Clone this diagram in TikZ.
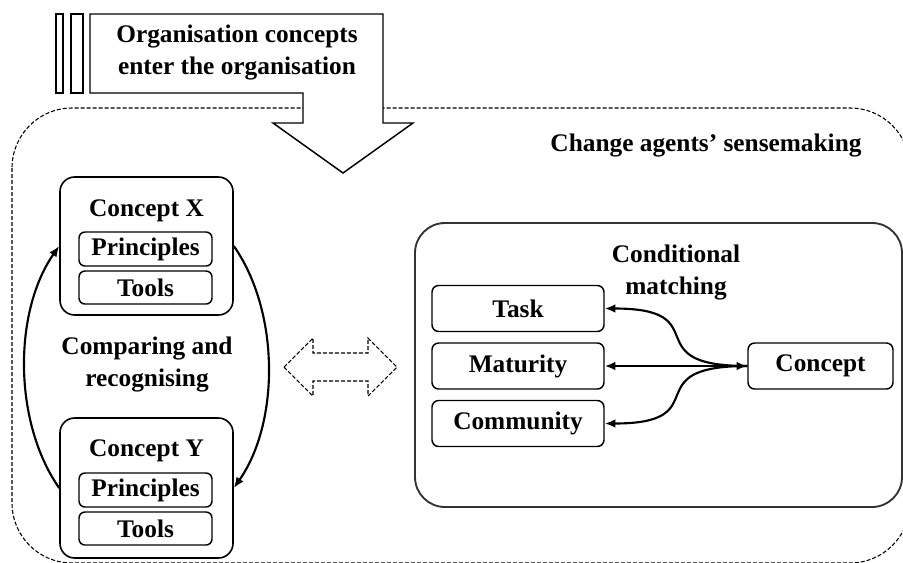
\documentclass[tikz,border=0pt]{standalone}
\usepackage{fontspec}
\setmainfont{Liberation Serif}
\usepackage{tikz}
\usetikzlibrary{positioning, arrows.meta, calc}

\begin{document}
\begin{tikzpicture}[x=0.75pt, y=-0.75pt, >={Latex[length=8pt,width=6.5pt]},
		every node/.style={font=\fontsize{19}{24}\selectfont\bfseries, align=center},
		conceptbox/.style={draw, line width=1.2pt, rounded corners=11pt, minimum width=129.75pt},
		itembox/.style={draw, line width=1.1pt, rounded corners=4.5pt, inner sep=0pt},
		factorbox/.style={draw, line width=1.1pt, rounded corners=5pt, inner sep=0pt, minimum width=129pt, minimum height=34.5pt},
		loop/.style={->, line width=1.6pt},
		border/.style={dashed, dash pattern=on 3pt off 1.5pt, line width=0.8pt}]
		
		\useasboundingbox (0,0) rectangle (903,562);
		
		% Draw sensemaking area
		\begin{scope}
			\clip (0,0) rectangle (903,562);
			\draw[border, rounded corners=45pt] (12,108) rectangle (910,563);
		\end{scope}
		\node (sense) at (706,145) {Change agents’ sensemaking};
		
		% Draw entering arrow
		\draw[line width=1.1pt] (56,14) rectangle (63,93);
		\draw[line width=1.1pt] (71,14) rectangle (83,93);
		\draw[line width=1.1pt, fill=white] (90,14) -- (383,14) -- (383,123) -- (413,123) -- (343,173)
			-- (273,123) -- (303,123) -- (303,93) -- (90,93) -- cycle;
		\node (enter) at (237,52) {Organisation concepts\\enter the organisation};
		
		% Concept X
		\node[conceptbox, minimum height=103.5pt] (cx) at (146.5,246) {};
		\node (cxname) at (146.5,211) {Concept X};
		\node[itembox, minimum width=99.75pt, minimum height=25.5pt] (cxprin) at (145.5,249) {Principles};
		\node[itembox, minimum width=99.75pt, minimum height=24.75pt] (cxtool) at (145.5,287.5) {Tools};
		
		% Concept Y
		\node[conceptbox, minimum height=105pt] (cy) at (146.5,488) {};
		\node (cyname) at (146.5,451) {Concept Y};
		\node[itembox, minimum width=99.75pt, minimum height=25.5pt] (cyprin) at (145.5,490) {Principles};
		\node[itembox, minimum width=99.75pt, minimum height=24.75pt] (cytool) at (145.5,528.5) {Tools};
		
		\node (compare) at (147,364) {Comparing and\\recognising};
		
		% Comparing loop
		\draw[loop] (cy.west) to[out=125, in=235, looseness=0.85] (cx.west);
		\draw[loop] (cx.east) to[out=-55, in=55, looseness=0.85] (cy.east);
		
		% Dashed double arrow
		\draw[border] (284,367) -- (313,338) -- (313,353) -- (368,353)
			-- (368,338) -- (397,367) -- (368,396) -- (368,381) -- (313,381) -- (313,396) -- cycle;
		
		% Conditional matching
		\node[draw=black!80, line width=1.4pt, rounded corners=22.5pt, minimum width=365.25pt, minimum height=213pt] (match) at (658.5,365) {};
		\node (matchname) at (676,272) {Conditional\\matching};
		\node[factorbox] (task) at (518,308.5) {Task};
		\node[factorbox] (maturity) at (518,366) {Maturity};
		\node[factorbox] (community) at (518,423.5) {Community};
		\node[factorbox, minimum width=108.75pt] (concept) at (820.5,366) {Concept};
		
		\draw[<->, line width=1.6pt] (maturity.east) -- (concept.west);
		\draw[->, line width=1.6pt] (concept.west) to[out=180, in=0, looseness=1.9] (task.east);
		\draw[->, line width=1.6pt] (concept.west) to[out=180, in=0, looseness=1.9] (community.east);
		
	\end{tikzpicture}
\end{document}
